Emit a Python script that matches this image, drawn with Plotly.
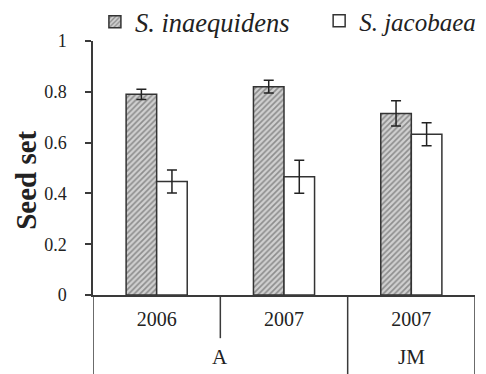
import plotly.graph_objects as go

sites = ["A", "A", "JM"]
years = ["2006", "2007", "2007"]
site_labels = ["A", "JM"]
inaeq = [0.79, 0.82, 0.715]
inaeq_err = [0.02, 0.025, 0.05]
jacob = [0.447, 0.466, 0.633]
jacob_err = [0.045, 0.065, 0.045]
y_ticks = [0, 0.2, 0.4, 0.6, 0.8, 1]
y_ticktext = ["0", "0.2", "0.4", "0.6", "0.8", "1"]
y_title = "Seed set"

keys = [f"{s} {y}" for s, y in zip(sites, years)]

FONT = "Liberation Serif, Times New Roman, serif"
LINE = "#3a3a3a"
TXT = "#222222"

fig = go.Figure()
fig.add_trace(go.Bar(
    name="S. inaequidens", x=keys, y=inaeq, legend="legend",
    error_y=dict(type="data", array=inaeq_err, color="#222", thickness=1.5, width=5),
    marker=dict(color="white", line=dict(color="#333", width=1.5),
                pattern=dict(shape="/", fgcolor="#4a4a4a", bgcolor="#d0d0d0", size=4, solidity=0.42)),
))
fig.add_trace(go.Bar(
    name="S. jacobaea", x=keys, y=jacob, legend="legend2",
    error_y=dict(type="data", array=jacob_err, color="#222", thickness=1.5, width=5),
    marker=dict(color="white", line=dict(color="#333", width=1.5)),
))

# category group dividers below the axis
n = len(keys)
for i in range(n + 1):
    xpos = i - 0.5
    if 0 < i < n and sites[i] == sites[i - 1]:
        y1 = -0.17
    else:
        y1 = -0.33
    fig.add_shape(type="line", xref="x", yref="paper", x0=xpos, x1=xpos, y0=0, y1=y1,
                  line=dict(color=LINE, width=1.5))

# outer (site) labels centred under their year groups
for s in site_labels:
    idx = [i for i, v in enumerate(sites) if v == s]
    fig.add_annotation(x=sum(idx) / len(idx), xref="x", y=-0.243, yref="paper",
                       text=s, showarrow=False, yanchor="middle",
                       font=dict(family=FONT, size=21, color=TXT))

# y-axis title (slightly below the axis middle, as in the original)
fig.add_annotation(x=-0.175, xref="paper", y=0.45, yref="paper", text=f"<b>{y_title}</b>",
                   textangle=-90, showarrow=False, xanchor="center", yanchor="middle",
                   font=dict(family=FONT, size=29, color=TXT))

leg_common = dict(orientation="h", yanchor="top", xanchor="left", y=1.169,
                  itemwidth=30, bgcolor="rgba(0,0,0,0)")

fig.update_layout(
    width=500, height=366,
    margin=dict(l=85, r=33, t=33, b=79, autoexpand=False),
    paper_bgcolor="white", plot_bgcolor="white",
    barmode="group", bargap=0.52, bargroupgap=0,
    font=dict(family=FONT, size=20, color=TXT),
    showlegend=True,
    legend=dict(x=0.005, font=dict(family=FONT, size=26.5, style="italic", color=TXT), **leg_common),
    legend2=dict(x=0.592, entrywidth=140, entrywidthmode="pixels",
                 font=dict(family=FONT, size=25, style="italic", color=TXT), **leg_common),
    xaxis=dict(type="category", categoryorder="array", categoryarray=keys,
               tickvals=keys, ticktext=years, range=[-0.5, n - 0.5],
               showline=True, linecolor=LINE, linewidth=1.5, ticks="",
               ticklabelstandoff=5,
               tickfont=dict(family=FONT, size=20, color=TXT), showgrid=False),
    yaxis=dict(range=[0, 1], tickvals=y_ticks, ticktext=y_ticktext,
               showline=True, linecolor=LINE, linewidth=1.5,
               ticks="outside", ticklen=6, tickcolor=LINE, tickwidth=1.5,
               ticklabelstandoff=15,
               showgrid=False, zeroline=False,
               tickfont=dict(family=FONT, size=18, color=TXT)),
)

fig.write_html("out.html")
